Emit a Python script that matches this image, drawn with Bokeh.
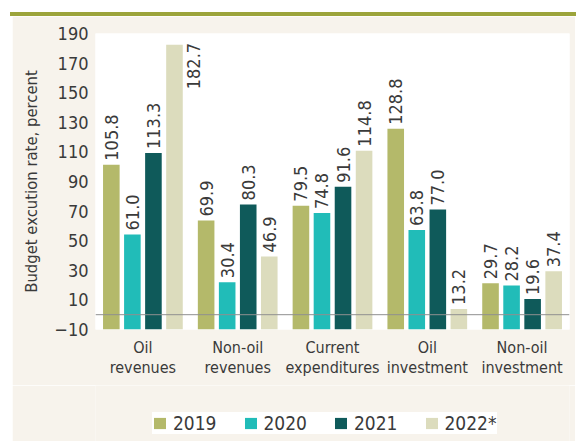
from math import pi

from bokeh.core.properties import value
from bokeh.embed import file_html
from bokeh.layouts import column
from bokeh.models import (ColumnDataSource, Div, FixedTicker, LabelSet, Legend,
                          LegendItem, LinearAxis, Range1d, Span)
from bokeh.plotting import figure
from bokeh.resources import INLINE
from bokeh.transform import dodge

# ---- data -------------------------------------------------------------
categories = ["Oil revenues", "Non-oil revenues", "Current expenditures",
              "Oil investment", "Non-oil investment"]
label_line1 = ["Oil", "Non-oil", "Current", "Oil", "Non-oil"]
label_line2 = ["revenues", "revenues", "expenditures", "investment", "investment"]
years = ["2019", "2020", "2021", "2022*"]
y2019 = [105.8, 69.9, 79.5, 128.8, 29.7]
y2020 = [61.0, 30.4, 74.8, 63.8, 28.2]
y2021 = [113.3, 80.3, 91.6, 77.0, 19.6]
y2022 = [182.7, 46.9, 114.8, 13.2, 37.4]
tick_values = [-10, 10, 30, 50, 70, 90, 110, 130, 150, 170, 190]
tick_labels = ["\u221210", "10", "30", "50", "70", "90", "110", "130", "150", "170", "190"]
axis_title = "Budget excution rate, percent"

series = [y2019, y2020, y2021, y2022]
colors = ["#b4b96a", "#21bcb8", "#0f5a5a", "#dcdcbd"]
offsets = [-0.333, -0.111, 0.111, 0.333]

FONT_NAME = "'DejaVu Sans Condensed', 'Liberation Sans', sans-serif"
FONT = value(FONT_NAME)
TEXT = "#3a3a3a"
BEIGE = "#f7f3ec"

# category slots on a numeric axis: slot i is centred at i + 0.5
cat_pos = [i + 0.5 for i in range(len(categories))]

p = figure(x_range=Range1d(0, len(categories)), y_range=Range1d(0, 190),
           width=563, height=369, output_backend="svg", toolbar_location=None,
           x_axis_location=None, y_axis_location=None,
           min_border_left=83, min_border_right=6,
           min_border_top=17, min_border_bottom=56,
           background_fill_color="white", border_fill_color=BEIGE,
           outline_line_color=None)
p.margin = (0, 0, 0, 12)
p.grid.grid_line_color = None

p.extra_y_ranges = {"axis": Range1d(-10, 190)}
yaxis = LinearAxis(y_range_name="axis", ticker=FixedTicker(ticks=tick_values),
                   major_label_overrides={v: l for v, l in zip(tick_values, tick_labels)},
                   axis_label=axis_title)
yaxis.axis_line_color = None
yaxis.major_tick_line_color = None
yaxis.minor_tick_line_color = None
yaxis.major_tick_out = 0
yaxis.major_tick_in = 0
yaxis.major_label_standoff = 7
yaxis.major_label_text_font = FONT_NAME
yaxis.major_label_text_font_size = "18px"
yaxis.major_label_text_color = TEXT
yaxis.axis_label_text_font = FONT_NAME
yaxis.axis_label_text_font_size = "16.5px"
yaxis.axis_label_text_font_style = "normal"
yaxis.axis_label_text_color = TEXT
yaxis.axis_label_standoff = 10
p.add_layout(yaxis, "left")

# two-line category labels: one axis per line
for lines, standoff in ((label_line1, 8), (label_line2, -2)):
    xa = LinearAxis(ticker=FixedTicker(ticks=cat_pos),
                    major_label_overrides={t: l for t, l in zip(cat_pos, lines)})
    xa.axis_line_color = None
    xa.major_tick_line_color = None
    xa.minor_tick_line_color = None
    xa.major_tick_out = 0
    xa.major_tick_in = 0
    xa.major_label_standoff = standoff
    xa.major_label_text_font = FONT_NAME
    xa.major_label_text_font_size = "16px"
    xa.major_label_text_color = TEXT
    p.add_layout(xa, "below")

p.add_layout(Span(location=0, dimension="width", y_range_name="axis",
                  line_color="#8f8f8f", line_width=1))

sources = []
for vals, col, off in zip(series, colors, offsets):
    src = ColumnDataSource(dict(pos=cat_pos, val=vals))
    sources.append(src)
    p.vbar(x=dodge("pos", off), top="val", bottom=0, width=0.175,
           source=src, fill_color=col, line_color=None)
    top_limit = p.y_range.end - 15
    inside = [i for i, v in enumerate(vals) if v <= top_limit]
    outside = [i for i, v in enumerate(vals) if v > top_limit]
    for idx, align, xo, yo in ((inside, "left", 0, 4), (outside, "right", 19, 2)):
        if not idx:
            continue
        lsrc = ColumnDataSource(dict(pos=[cat_pos[i] for i in idx],
                                     val=[vals[i] for i in idx],
                                     lab=["%.1f" % vals[i] for i in idx]))
        p.add_layout(LabelSet(x=dodge("pos", off), y="val", text="lab",
                              source=lsrc, angle=pi / 2, text_align=align,
                              text_baseline="middle", x_offset=xo, y_offset=yo,
                              text_font=FONT, text_font_size="18px", text_color=TEXT))

# legend strip (separate small figure below the chart); its renderers reuse the
# series data but lie outside this strip's visible range, so only swatches show
lf = figure(x_range=Range1d(0, len(categories)), y_range=Range1d(1000, 1001),
            width=563, height=56, output_backend="svg", toolbar_location=None,
            x_axis_location=None, y_axis_location=None, min_border=0,
            background_fill_color=BEIGE, border_fill_color=BEIGE,
            outline_line_color=None)
lf.margin = (0, 0, 0, 12)
lf.grid.grid_line_color = None
swatches = [lf.vbar(x=dodge("pos", off), top="val", bottom=0, width=0.175, source=src,
                    fill_color=col, line_color=None)
            for src, col, off in zip(sources, colors, offsets)]
legend = Legend(items=[LegendItem(label=y, renderers=[r]) for y, r in zip(years, swatches)],
                orientation="horizontal", location=(57, 7),
                background_fill_color="white", background_fill_alpha=1,
                border_line_color=None, label_text_font=FONT_NAME,
                label_text_font_size="19px", label_text_color=TEXT,
                glyph_width=15, glyph_height=14, label_standoff=6, spacing=26,
                padding=8, margin=0)
lf.add_layout(legend, "center")

bar = Div(text="", width=566, height=4, margin=(12, 0, 0, 10),
          styles={"background-color": "#9ca43b"})
layout = column(bar, p, lf)

open("out.html", "w").write(file_html(layout, INLINE))
